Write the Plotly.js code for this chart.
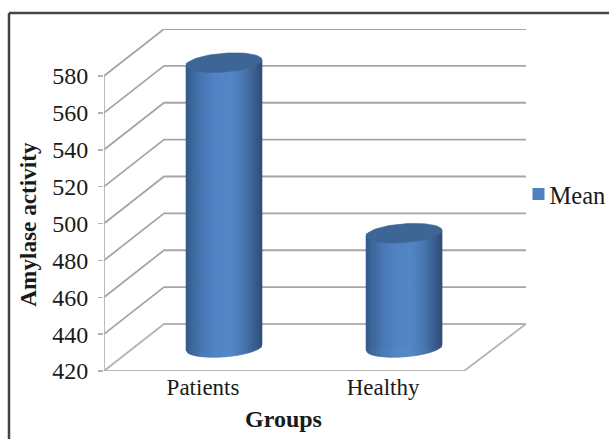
<!DOCTYPE html>
<html>
<head>
<meta charset="utf-8">
<script src="https://cdn.plot.ly/plotly-3.0.1.min.js"></script>
<style>html,body{margin:0;padding:0;background:#fff;overflow:hidden}</style>
</head>
<body>
<div id="chart" style="width:609px;height:439px"></div>
<script>
// Amylase activity by group
const groups = ['Patients', 'Healthy'];
const means = [574.5, 482];
const yTicks = [420, 440, 460, 480, 500, 520, 540, 560, 580];
const seriesName = 'Mean';

// Oblique projection: the floor recedes to the upper right
const depthX = 1 / 3, depthY = 25.5;
const xStart = -0.5, xFront = 1.5, xBack = 1.844, yBase = 420, yTop = 605.5;
const radiusX = 0.211, radiusY = 5.1, slant = 1.5;

// Plot box in page pixels, used to place text and the frame
const box = {l: 104, r: 526, t: 29, b: 370.7};
const px = v => (v - box.l) / (box.r - box.l);
const py = v => (box.b - v) / (box.b - box.t);

const gridColor = '#a6a6a6';
const lineTrace = (x, y, color) => ({
  type: 'scatter', mode: 'lines', x, y, showlegend: false, hoverinfo: 'skip',
  line: {color: color || gridColor, width: 1.8}
});

const traces = [];
// Side wall and back wall gridlines
yTicks.forEach((v, i) => {
  if (i === 0) return;
  traces.push(lineTrace([xStart, xStart + depthX, xBack], [v, v + depthY, v + depthY]));
});
// Floor outline and value axis
traces.push(lineTrace(
  [xStart, xStart + depthX, xBack, xFront, xStart, xStart],
  [yBase, yBase + depthY, yBase + depthY, yBase, yBase, yTicks[yTicks.length - 1]],
  '#b4b4b4'));

// Series bar carries the legend entry; the cylinder shading is laid over it
const centers = groups.map((_, i) => i + depthX / 2);
const baseLevel = yBase + depthY / 2;
traces.push({
  type: 'bar', name: seriesName, x: centers,
  y: means.map(m => m - yBase),
  base: means.map(() => baseLevel),
  width: groups.map(() => radiusX * 2),
  marker: {color: '#4f81bd', line: {width: 0}},
  hoverinfo: 'skip', showlegend: true
});

// Shade across the cylinder, left edge to right edge
const shadeStops = [
  [0.00, [50, 88, 135]], [0.08, [60, 102, 155]], [0.20, [72, 118, 178]],
  [0.40, [82, 132, 198]], [0.60, [84, 134, 198]], [0.78, [72, 116, 172]],
  [0.92, [56, 92, 138]], [1.00, [48, 78, 118]]
];
function shade(u) {
  for (let k = 1; k < shadeStops.length; k++) {
    if (u <= shadeStops[k][0]) {
      const [a, ca] = shadeStops[k - 1], [b, cb] = shadeStops[k];
      const f = (u - a) / (b - a);
      const c = ca.map((q, j) => Math.round(q + (cb[j] - q) * f));
      return `rgb(${c[0]},${c[1]},${c[2]})`;
    }
  }
  return 'rgb(48,78,118)';
}

const strips = 38;
groups.forEach((_, g) => {
  const cx = centers[g], topY = means[g] + depthY / 2;
  const slantAt = dx => slant * dx / radiusX;
  for (let s = 0; s < strips; s++) {
    const d0 = -radiusX + 2 * radiusX * s / strips;
    const d1 = -radiusX + 2 * radiusX * (s + 1) / strips;
    const arc = d => baseLevel + slantAt(d) - radiusY * Math.sqrt(Math.max(0, 1 - (d / radiusX) ** 2));
    const col = shade((s + 0.5) / strips);
    traces.push({
      type: 'scatter', mode: 'lines', fill: 'toself', fillcolor: col,
      x: [cx + d0, cx + d1, cx + d1, cx + d0, cx + d0],
      y: [topY + slantAt(d0), topY + slantAt(d1), arc(d1), arc(d0), topY + slantAt(d0)],
      line: {color: col, width: 0.6}, showlegend: false, hoverinfo: 'skip'
    });
  }
  // Cylinder cap
  const capX = [], capY = [];
  for (let a = 0; a <= 72; a++) {
    const t = a / 72 * 2 * Math.PI;
    capX.push(cx + radiusX * Math.cos(t));
    capY.push(topY + radiusY * Math.sin(t) + slant * Math.cos(t));
  }
  traces.push({
    type: 'scatter', mode: 'lines', fill: 'toself', fillcolor: '#3d6595',
    x: capX, y: capY, line: {color: '#3d6595', width: 0.6},
    showlegend: false, hoverinfo: 'skip'
  });
});

const serif = '"Liberation Serif", "Times New Roman", serif';
const layout = {
  width: 609, height: 439,
  margin: {l: box.l, r: 609 - box.r, t: box.t, b: 439 - box.b, autoexpand: false},
  paper_bgcolor: '#fff', plot_bgcolor: 'rgba(0,0,0,0)',
  barmode: 'overlay',
  font: {family: serif, size: 23, color: '#1a1a1a'},
  xaxis: {
    range: [xStart, xBack], showgrid: false, zeroline: false, showline: false,
    tickmode: 'array', tickvals: groups.map((_, i) => i + 0.05), ticktext: groups,
    ticks: '', tickfont: {size: 23}, fixedrange: true
  },
  yaxis: {
    range: [yBase, yTop], showgrid: false, zeroline: false, showline: false,
    tickmode: 'array', tickvals: yTicks, ticktext: yTicks.map(String),
    ticks: 'outside', ticklen: 5, tickwidth: 1.5, tickcolor: '#b4b4b4',
    ticklabelstandoff: 5,
    tickfont: {size: 24}, fixedrange: true
  },
  legend: {
    x: px(518.5), xanchor: 'left', y: py(194), yanchor: 'middle',
    bgcolor: 'rgba(0,0,0,0)', font: {size: 24.5, color: '#1a1a1a'}
  },
  annotations: [
    {text: '<b>Groups</b>', xref: 'paper', yref: 'paper', x: px(283.5), y: py(419),
     showarrow: false, font: {size: 24}, xanchor: 'center', yanchor: 'middle'},
    {text: '<b>Amylase activity</b>', xref: 'paper', yref: 'paper', x: px(28), y: py(224.5),
     textangle: -90, showarrow: false, font: {size: 23.2}, xanchor: 'center', yanchor: 'middle'}
  ],
  shapes: [
    {type: 'line', xref: 'paper', yref: 'paper', x0: px(9), x1: px(609), y0: py(13), y1: py(13),
     line: {color: '#444', width: 2.5}},
    {type: 'line', xref: 'paper', yref: 'paper', x0: px(9), x1: px(9), y0: py(13), y1: py(439),
     line: {color: '#444', width: 2.5}}
  ]
};

Plotly.newPlot('chart', traces, layout, {displayModeBar: false, staticPlot: true}).then(() => {
  // Tighten the gap between the legend swatch and its label
  document.querySelectorAll('#chart .legendtext').forEach(t => t.setAttribute('x', 31));
});
</script>
</body>
</html>
